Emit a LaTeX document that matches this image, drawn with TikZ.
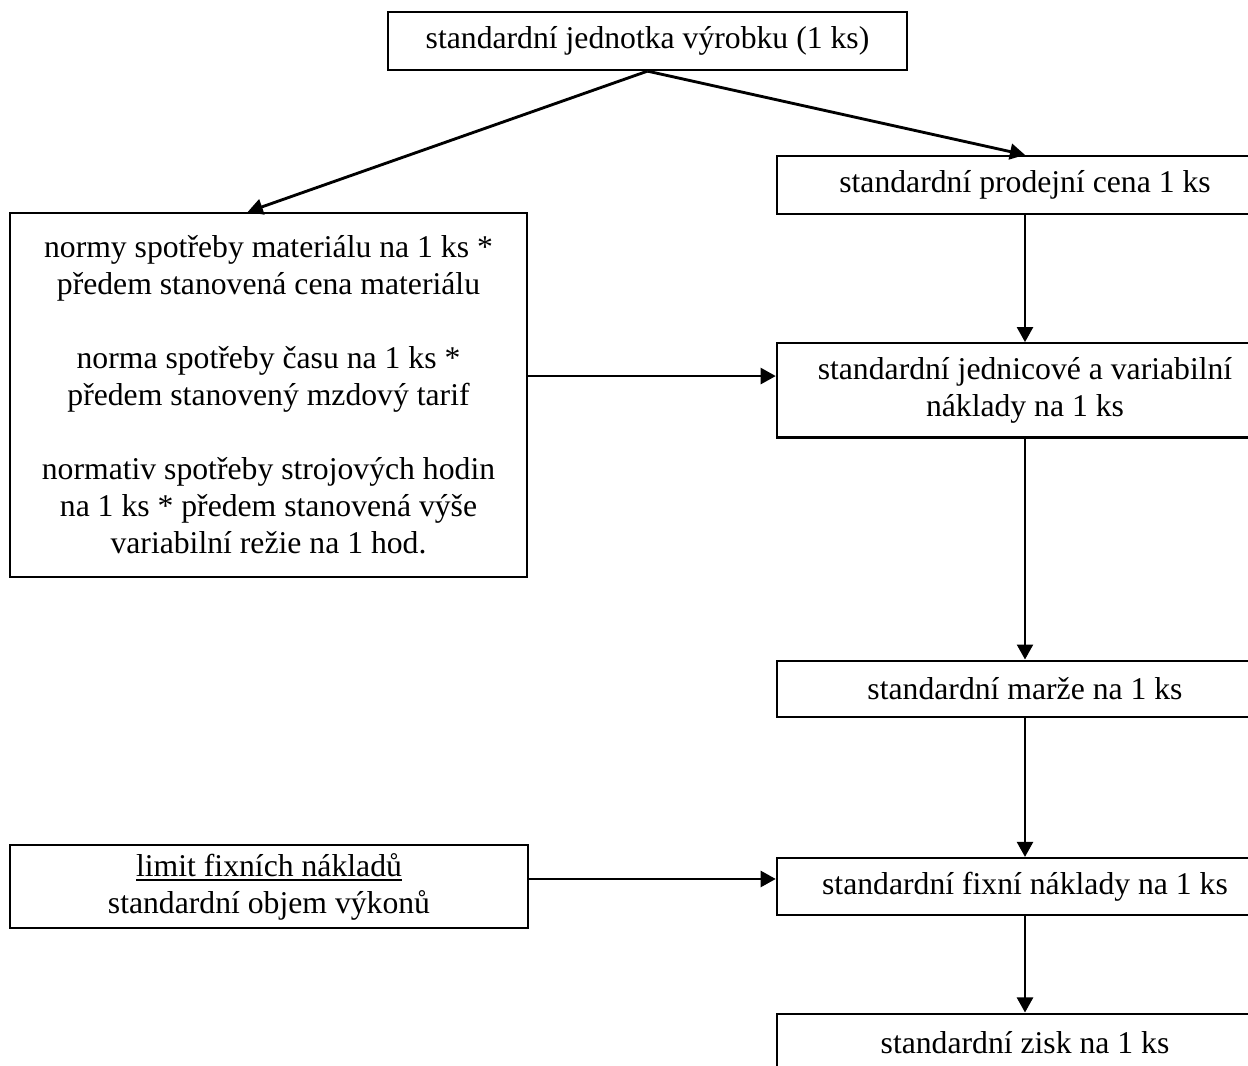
\documentclass[tikz,border=0pt]{standalone}
\usepackage{fontspec}
\setmainfont{Liberation Serif}
\usetikzlibrary{arrows.meta,positioning}

\begin{document}
\begin{tikzpicture}[x=0.385pt,y=-0.385pt,
  box/.style={draw,line width=0.9pt,align=center,inner sep=2pt,font=\fontsize{12.2}{14.25}\selectfont},
  colbox/.style={box,minimum width=191pt,minimum height=22.3pt},
  arr/.style={-{Triangle[length=5.8pt,width=6.1pt]},line width=1.1pt}]
\clip (0,0) rectangle (1248,1065);
\node[box,minimum width=199.8pt,minimum height=22.3pt] (unit) at (647.5,41) {standardní jednotka výrobku (1 ks)};
\node[colbox] (price) at (1025,185) {standardní prodejní cena 1 ks};
\node[colbox,minimum height=36.2pt,below=48.9pt of price] (varcost) {standardní jednicové a variabilní\\náklady na 1 ks};
\node[colbox,minimum height=21.6pt,below=85.1pt of varcost] (margin) {standardní marže na 1 ks};
\node[colbox,minimum height=22pt,below=53.5pt of margin] (fixcost) {standardní fixní náklady na 1 ks};
\node[colbox,below=37pt of fixcost] (profit) {standardní zisk na 1 ks};
\node[box,minimum width=199pt,minimum height=140.1pt] (norms) at (268.5,395) {normy spotřeby materiálu na 1 ks *\\předem stanovená cena materiálu\\[14.25pt]norma spotřeby času na 1 ks *\\předem stanovený mzdový tarif\\[14.25pt]normativ spotřeby strojových hodin\\na 1 ks * předem stanovená výše\\variabilní režie na 1 hod.};
\node[box,minimum width=199.4pt,minimum height=32pt] (limit) at (269,886.5) {\underline{limit fixních nákladů}\\standardní objem výkonů};
\draw[arr] (unit.south)--([xshift=-8pt]norms.north);
\draw[arr] (unit.south)--(price.north);
\draw[arr] (price)--(varcost);
\draw[arr] ([yshift=7.3pt]norms.east)--([yshift=7.3pt]norms.east -| varcost.west);
\draw[arr] (varcost)--(margin);
\draw[arr] (margin)--(fixcost);
\draw[arr] ([yshift=2.9pt]limit.east)--([yshift=2.9pt]limit.east -| fixcost.west);
\draw[arr] (fixcost)--(profit);
\end{tikzpicture}
\end{document}
